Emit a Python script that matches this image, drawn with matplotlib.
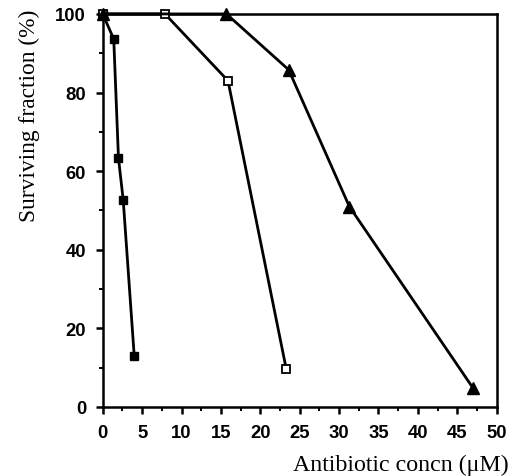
import matplotlib
matplotlib.use("Agg")
import matplotlib.pyplot as plt
import matplotlib.ticker as ticker

# -------------------------------------------------------
# Data
# -------------------------------------------------------
conc_filled = [0, 1.4, 2.0, 2.6, 4.0]
surv_filled = [100, 93.6, 63.3, 52.7, 13.0]

conc_open = [0, 7.9, 15.9, 23.3]
surv_open = [100, 100, 83.0, 9.6]

conc_tri = [0, 15.7, 23.6, 31.3, 47.0]
surv_tri = [100, 100, 85.8, 51.0, 4.8]

x_ticks = [0, 5, 10, 15, 20, 25, 30, 35, 40, 45, 50]
y_ticks = [0, 20, 40, 60, 80, 100]

# -------------------------------------------------------
# Plot
# -------------------------------------------------------
fig = plt.figure(figsize=(5.11, 4.77), dpi=100)
ax = fig.add_axes([0.201, 0.1447, 0.771, 0.824])

ax.plot(conc_filled, surv_filled, "s-", color="black", lw=2.0,
        ms=6, mfc="black", mec="black", clip_on=False, zorder=3)
ax.plot(conc_open, surv_open, "s-", color="black", lw=2.0,
        ms=5.5, mfc="white", mec="black", mew=1.3, clip_on=False, zorder=3)
ax.plot(conc_tri, surv_tri, "^-", color="black", lw=2.0,
        ms=9, mfc="black", mec="black", clip_on=False, zorder=4)

ax.set_xlim(0, 50)
ax.set_ylim(0, 100)
ax.set_xticks(x_ticks)
ax.set_yticks(y_ticks)
ax.xaxis.set_minor_locator(ticker.MultipleLocator(2.5))
ax.yaxis.set_minor_locator(ticker.MultipleLocator(10))

for s in ax.spines.values():
    s.set_linewidth(1.8)

ax.tick_params(which="major", direction="out", length=5, width=1.8,
               labelsize=13.3, pad=7)
ax.tick_params(which="minor", direction="out", length=3, width=1.4)
for lab in ax.get_xticklabels() + ax.get_yticklabels():
    lab.set_fontweight("bold")
    lab.set_fontfamily("Liberation Sans")

ax.set_xlabel("Antibiotic concn (\u03bcM)", fontsize=17.2,
              family="Liberation Serif", loc="right")
ax.xaxis.set_label_coords(1.03, -0.118)
ax.set_ylabel("Surviving fraction (%)", fontsize=16.8,
              family="Liberation Serif", loc="top")
ax.yaxis.set_label_coords(-0.16, 1.013)

plt.savefig("out.png", dpi=100)
